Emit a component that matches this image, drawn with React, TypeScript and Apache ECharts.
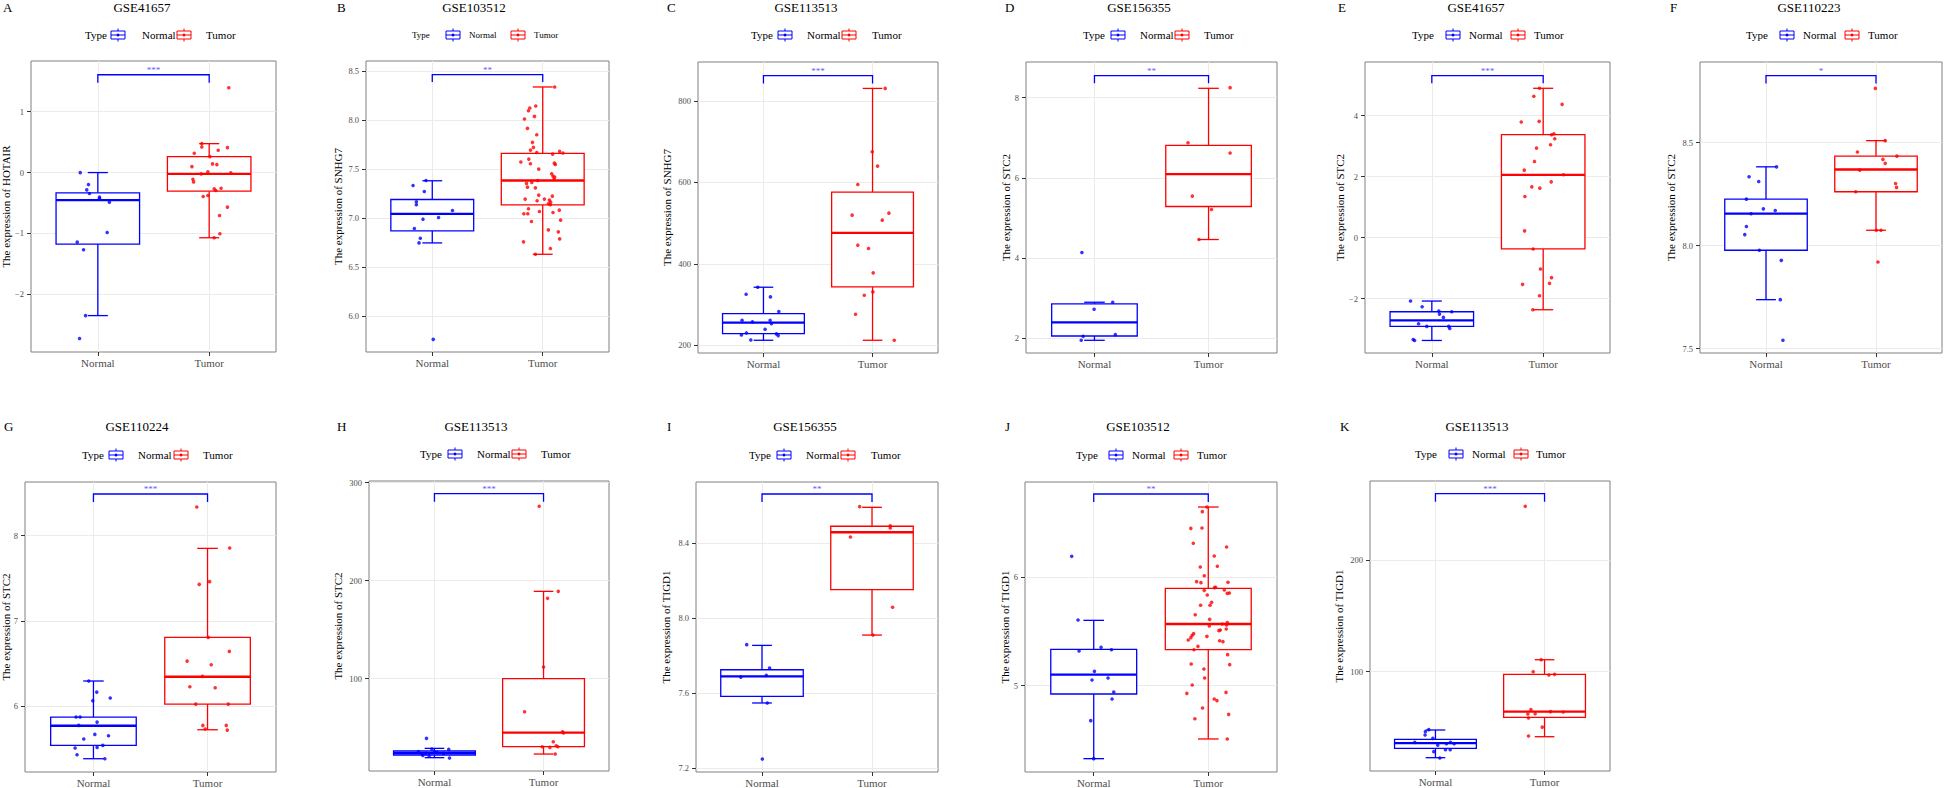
import React, { useEffect, useRef } from "react";
import * as echarts from "echarts";

const BLUE = "#0000ff";
const RED = "#ff0000";
const STAR_COLOR = "#5c5cff";
const FONT = '"Liberation Serif","Times New Roman",Times,serif';
const CATEGORIES = ["Normal", "Tumor"];

// ---------------- meta ----------------
const LETTERS = ["A", "B", "C", "D", "E", "F", "G", "H", "I", "J", "K"];
const DATASETS = ["GSE41657", "GSE103512", "GSE113513", "GSE156355", "GSE41657", "GSE110223", "GSE110224", "GSE113513", "GSE156355", "GSE103512", "GSE113513"];
const GENES = ["HOTAIR", "SNHG7", "SNHG7", "STC2", "STC2", "STC2", "STC2", "STC2", "TIGD1", "TIGD1", "TIGD1"];
const SIGNIF = ["***", "**", "***", "**", "***", "*", "***", "***", "**", "**", "***"];
const Y_TICKS = [
  [-2, -1, 0, 1],
  [6, 6.5, 7, 7.5, 8, 8.5],
  [200, 400, 600, 800],
  [2, 4, 6, 8],
  [-2, 0, 2, 4],
  [7.5, 8, 8.5],
  [6, 7, 8],
  [100, 200, 300],
  [7.2, 7.6, 8.0, 8.4],
  [5, 6],
  [100, 200],
];
const Y_DECIMALS = [0, 1, 0, 0, 0, 1, 0, 0, 1, 0, 0];
const Y_RANGES = [
  [-2.948, 1.833], [5.636, 8.605], [181, 896], [1.625, 8.89], [-3.78, 5.76], [7.479, 8.892],
  [5.226, 8.63], [5.8, 301.7], [7.179, 8.725], [4.203, 6.88], [11.1, 270.7],
];
// [bracket level, bracket tip end]
const BRACKETS = [
  [1.607, 1.475], [8.466, 8.391], [862.3, 843.4], [8.55, 8.358], [5.314, 5.062], [8.826, 8.788],
  [8.489, 8.395], [288.8, 280.6], [8.661, 8.619], [6.769, 6.695], [259.4, 252.2],
];

// ---------------- box stats: [lower whisker, Q1, median, Q3, upper whisker] ----------------
const A_NORMAL_BOX = [-2.35, -1.175, -0.454, -0.333, 0.0];
const A_TUMOR_BOX = [-1.071, -0.306, -0.022, 0.262, 0.475];
const B_NORMAL_BOX = [6.749, 6.872, 7.046, 7.192, 7.383];
const B_TUMOR_BOX = [6.633, 7.138, 7.386, 7.662, 8.34];
const C_NORMAL_BOX = [212.3, 228.7, 255.7, 277.9, 342.6];
const C_TUMOR_BOX = [212.3, 343.4, 476.2, 576.2, 831.1];
const D_NORMAL_BOX = [1.942, 2.05, 2.392, 2.85, 2.892];
const D_TUMOR_BOX = [4.458, 5.283, 6.092, 6.808, 8.233];
const E_NORMAL_BOX = [-3.369, -2.909, -2.712, -2.427, -2.077];
const E_TUMOR_BOX = [-2.362, -0.369, 2.062, 3.376, 4.898];
const F_NORMAL_BOX = [7.738, 7.978, 8.156, 8.226, 8.383];
const F_TUMOR_BOX = [8.075, 8.262, 8.37, 8.435, 8.51];
const G_NORMAL_BOX = [5.382, 5.538, 5.769, 5.871, 6.294];
const G_TUMOR_BOX = [5.722, 6.023, 6.344, 6.806, 7.851];
const H_NORMAL_BOX = [19.4, 22.1, 24.1, 26.2, 28.9];
const H_TUMOR_BOX = [23.1, 30.6, 44.9, 100.0, 189.1];
const I_NORMAL_BOX = [7.547, 7.582, 7.689, 7.724, 7.854];
const I_TUMOR_BOX = [7.909, 8.151, 8.457, 8.489, 8.59];
const J_NORMAL_BOX = [4.326, 4.923, 5.102, 5.335, 5.603];
const J_TUMOR_BOX = [4.508, 5.332, 5.569, 5.898, 6.649];
const K_NORMAL_BOX = [23.0, 31.3, 36.1, 39.4, 47.8];
const K_TUMOR_BOX = [41.8, 59.1, 64.2, 97.6, 110.7];

// ---------------- samples: [jitter offset, value] ----------------
const A_NORMAL_PTS = [[-0.158, 0.0], [-0.084, -0.197], [-0.099, -0.284], [-0.075, -0.344], [0.015, -0.404], [0.015, -0.426], [0.104, -0.486], [0.084, -0.984], [-0.185, -1.142], [-0.128, -1.268], [-0.11, -2.35], [-0.164, -2.727]];
const A_TUMOR_PTS = [[0.176, 1.393], [-0.066, 0.475], [-0.066, 0.421], [0.164, 0.41], [0.081, 0.366], [-0.134, 0.317], [0.006, 0.262], [-0.155, 0.098], [0.03, 0.142], [0.069, 0.131], [-0.012, 0.011], [-0.072, -0.022], [0.194, -0.005], [-0.146, -0.109], [-0.14, -0.153], [0.045, -0.268], [0.06, -0.295], [0.107, -0.257], [-0.054, -0.393], [-0.012, -0.377], [0.164, -0.568], [0.093, -0.705], [0.096, -1.005], [0.045, -1.071]];
const B_NORMAL_PTS = [[-0.174, 7.335], [-0.057, 7.386], [-0.072, 7.274], [-0.144, 7.168], [-0.144, 7.138], [0.183, 7.08], [0.057, 7.008], [-0.084, 6.991], [-0.162, 6.896], [-0.108, 6.797], [-0.12, 6.749], [0.009, 5.765]];
const B_TUMOR_PTS = [[0.108, 8.34], [-0.063, 8.146], [-0.117, 8.125], [-0.129, 8.098], [-0.075, 8.04], [-0.165, 8.013], [-0.138, 7.918], [-0.054, 7.853], [-0.093, 7.775], [-0.084, 7.724], [-0.111, 7.696], [-0.054, 7.672], [0.09, 7.655], [0.153, 7.683], [0.183, 7.666], [-0.198, 7.574], [-0.126, 7.604], [-0.111, 7.557], [0.105, 7.563], [0.114, 7.55], [-0.036, 7.502], [0.081, 7.454], [0.093, 7.431], [0.108, 7.42], [0.102, 7.397], [-0.045, 7.386], [-0.099, 7.366], [-0.147, 7.356], [-0.138, 7.318], [-0.066, 7.311], [-0.036, 7.236], [0.087, 7.226], [-0.159, 7.196], [0.015, 7.196], [-0.051, 7.179], [0.06, 7.186], [0.072, 7.165], [0.051, 7.148], [0.069, 7.138], [-0.129, 7.097], [-0.03, 7.07], [0.15, 7.083], [-0.171, 7.046], [-0.135, 7.046], [0.093, 7.059], [-0.102, 6.967], [0.162, 6.981], [0.051, 6.882], [0.141, 6.862], [0.153, 6.79], [-0.174, 6.76], [0.069, 6.692], [-0.066, 6.633]];
const C_NORMAL_PTS = [[-0.052, 342.6], [-0.159, 325.4], [0.064, 318.9], [0.141, 282.8], [-0.196, 261.5], [-0.101, 257.4], [0.061, 261.5], [0.073, 253.3], [0.015, 239.3], [-0.156, 230.3], [-0.202, 225.4], [0.119, 227.9], [0.135, 223.8], [-0.116, 213.1]];
const C_TUMOR_PTS = [[0.116, 831.1], [-0.003, 675.4], [0.046, 640.2], [-0.135, 595.1], [-0.187, 519.7], [0.15, 524.6], [0.089, 507.4], [-0.135, 445.9], [-0.037, 437.7], [0.006, 377.9], [0.003, 331.1], [-0.076, 323.0], [-0.156, 276.2], [0.199, 212.3]];
const D_NORMAL_PTS = [[-0.11, 4.133], [0.16, 2.892], [-0.003, 2.717], [0.183, 2.083], [-0.099, 2.042], [-0.116, 1.942]];
const D_TUMOR_PTS = [[0.189, 8.25], [-0.18, 6.875], [0.189, 6.617], [-0.142, 5.542], [0.026, 5.208], [-0.084, 4.458]];
const E_NORMAL_PTS = [[-0.191, -2.077], [-0.087, -2.263], [0.063, -2.405], [0.179, -2.427], [0.069, -2.504], [0.104, -2.613], [-0.119, -2.821], [-0.045, -2.909], [0.152, -2.909], [0.161, -2.975], [-0.167, -3.336], [-0.155, -3.369]];
const E_TUMOR_PTS = [[-0.033, 4.898], [-0.084, 4.635], [0.17, 4.372], [-0.197, 3.792], [-0.036, 3.814], [0.096, 3.409], [0.075, 3.376], [0.104, 3.245], [0.066, 3.047], [-0.06, 2.938], [-0.078, 2.5], [-0.17, 2.215], [0.182, 2.062], [0.072, 1.832], [-0.102, 1.668], [-0.03, 1.624], [-0.164, 1.35], [-0.167, 0.222], [-0.09, -0.369], [-0.024, -1.026], [0.075, -1.31], [0.057, -1.496], [-0.185, -1.529], [-0.033, -1.902], [-0.093, -2.362]];
const F_NORMAL_PTS = [[0.096, 8.383], [-0.154, 8.335], [-0.066, 8.312], [-0.178, 8.226], [-0.024, 8.179], [0.084, 8.171], [-0.136, 8.155], [-0.178, 8.093], [-0.193, 8.054], [-0.06, 7.978], [0.139, 7.929], [0.13, 7.738], [0.154, 7.541]];
const F_TUMOR_PTS = [[-0.006, 8.764], [0.084, 8.51], [-0.169, 8.455], [0.19, 8.435], [0.063, 8.419], [0.084, 8.4], [-0.148, 8.367], [0.178, 8.302], [0.187, 8.283], [-0.184, 8.262], [0.003, 8.075], [0.045, 8.075], [0.018, 7.921]];
const G_NORMAL_PTS = [[-0.041, 6.294], [0.029, 6.164], [-0.006, 6.063], [0.147, 6.094], [-0.152, 5.871], [-0.117, 5.871], [0.032, 5.812], [-0.129, 5.773], [-0.085, 5.613], [0.012, 5.667], [0.132, 5.652], [0.082, 5.538], [0.032, 5.515], [-0.161, 5.507], [-0.144, 5.429], [0.1, 5.382]];
const G_TUMOR_PTS = [[-0.094, 8.337], [0.194, 7.855], [-0.073, 7.429], [0.018, 7.46], [0.006, 6.806], [0.191, 6.642], [-0.179, 6.528], [0.032, 6.485], [-0.044, 6.348], [-0.155, 6.227], [0.067, 6.215], [-0.103, 6.023], [0.182, 6.023], [-0.041, 5.773], [0.164, 5.773], [-0.021, 5.73], [0.173, 5.718]];
const H_NORMAL_PTS = [[-0.073, 39.1], [-0.024, 28.2], [0.131, 27.9], [-0.147, 25.5], [-0.116, 23.5], [-0.08, 23.8], [0.024, 24.8], [0.083, 23.8], [0.138, 19.0], [-0.049, 21.4], [-0.107, 21.8], [0.0, 25.2]];
const H_TUMOR_PTS = [[-0.04, 275.9], [0.135, 189.1], [0.037, 182.0], [0.0, 111.9], [-0.174, 66.3], [0.174, 45.9], [0.183, 44.6], [0.089, 35.7], [-0.012, 30.6], [0.058, 29.9], [0.116, 31.6], [0.131, 30.6], [0.107, 23.1]];
const I_NORMAL_PTS = [[-0.139, 7.858], [0.069, 7.733], [0.039, 7.694], [-0.193, 7.685], [0.048, 7.547], [0.003, 7.248]];
const I_TUMOR_PTS = [[-0.112, 8.594], [0.166, 8.492], [0.166, 8.48], [-0.196, 8.432], [0.187, 8.057], [0.009, 7.909]];
const J_NORMAL_PTS = [[-0.192, 6.194], [-0.137, 5.606], [0.064, 5.354], [-0.128, 5.32], [0.155, 5.332], [0.006, 5.132], [-0.015, 5.052], [0.125, 5.071], [0.175, 4.942], [0.16, 4.877], [-0.026, 4.677], [0.0, 4.326]];
const J_TUMOR_PTS = [[-0.012, 6.649], [-0.052, 6.606], [-0.152, 6.452], [-0.055, 6.455], [-0.131, 6.314], [0.16, 6.28], [0.052, 6.197], [-0.07, 6.095], [0.079, 6.102], [-0.035, 6.015], [-0.102, 5.96], [-0.064, 5.951], [0.172, 5.954], [0.055, 5.905], [0.064, 5.908], [-0.035, 5.88], [0.14, 5.883], [0.184, 5.855], [0.166, 5.852], [-0.009, 5.837], [0.029, 5.769], [-0.067, 5.742], [0.015, 5.742], [-0.114, 5.655], [0.012, 5.612], [0.166, 5.582], [0.122, 5.569], [0.16, 5.56], [0.009, 5.551], [-0.128, 5.48], [-0.14, 5.465], [-0.152, 5.443], [-0.175, 5.422], [0.105, 5.514], [0.093, 5.508], [0.157, 5.523], [-0.012, 5.455], [-0.09, 5.363], [-0.125, 5.332], [0.099, 5.415], [0.128, 5.406], [0.169, 5.286], [-0.149, 5.2], [0.187, 5.194], [-0.038, 5.154], [-0.032, 5.071], [-0.14, 5.006], [-0.187, 4.929], [0.155, 4.938], [0.052, 4.877], [0.076, 4.862], [-0.05, 4.794], [0.178, 4.735], [-0.117, 4.695], [0.166, 4.508]];
const K_NORMAL_PTS = [[-0.061, 48.1], [-0.092, 46.3], [-0.095, 43.3], [-0.024, 40.3], [-0.19, 36.7], [0.138, 36.7], [0.171, 35.5], [0.101, 35.5], [0.021, 34.3], [0.092, 30.1], [0.135, 30.1], [-0.015, 28.4], [0.04, 22.7]];
const K_TUMOR_PTS = [[-0.177, 248.1], [-0.031, 110.7], [-0.104, 100.0], [0.04, 97.0], [0.092, 97.6], [-0.125, 66.0], [-0.153, 62.1], [-0.086, 62.4], [0.055, 64.2], [0.171, 63.9], [-0.147, 58.5], [-0.021, 50.4], [-0.147, 42.4]];

const NORMAL_BOXES = [A_NORMAL_BOX, B_NORMAL_BOX, C_NORMAL_BOX, D_NORMAL_BOX, E_NORMAL_BOX, F_NORMAL_BOX, G_NORMAL_BOX, H_NORMAL_BOX, I_NORMAL_BOX, J_NORMAL_BOX, K_NORMAL_BOX];
const TUMOR_BOXES = [A_TUMOR_BOX, B_TUMOR_BOX, C_TUMOR_BOX, D_TUMOR_BOX, E_TUMOR_BOX, F_TUMOR_BOX, G_TUMOR_BOX, H_TUMOR_BOX, I_TUMOR_BOX, J_TUMOR_BOX, K_TUMOR_BOX];
const NORMAL_PTS = [A_NORMAL_PTS, B_NORMAL_PTS, C_NORMAL_PTS, D_NORMAL_PTS, E_NORMAL_PTS, F_NORMAL_PTS, G_NORMAL_PTS, H_NORMAL_PTS, I_NORMAL_PTS, J_NORMAL_PTS, K_NORMAL_PTS];
const TUMOR_PTS = [A_TUMOR_PTS, B_TUMOR_PTS, C_TUMOR_PTS, D_TUMOR_PTS, E_TUMOR_PTS, F_TUMOR_PTS, G_TUMOR_PTS, H_TUMOR_PTS, I_TUMOR_PTS, J_TUMOR_PTS, K_TUMOR_PTS];

// ---------------- layout (pixels) ----------------
// panel border: left, top, right, bottom
const PANEL_RECTS = [
  [31, 61, 276, 352], [366, 61, 609, 352], [698, 62, 938, 353], [1026, 62, 1277, 353], [1365, 62, 1610, 353], [1700, 62, 1942, 353],
  [25, 482, 276, 772], [369, 481, 609, 771], [696, 482, 938, 772], [1025, 482, 1277, 772], [1370, 481, 1610, 771],
];
// legend: y, "Type" x, icon1 centre, "Normal" x, icon2 centre, "Tumor" x
const LEGEND_POS = [
  [35, 85, 118, 142, 184, 206], [35, 412, 453, 469, 518, 534], [35, 751, 785, 807, 849, 872], [35, 1083, 1118, 1140, 1182, 1204],
  [35, 1412, 1453, 1469, 1518, 1534], [35, 1746, 1787, 1803, 1852, 1868],
  [455, 82, 116, 138, 181, 203], [454, 420, 455, 477, 519, 541], [455, 749, 784, 806, 848, 871], [455, 1076, 1116, 1132, 1181, 1197], [454, 1415, 1456, 1472, 1521, 1536],
];
const LEGEND_FONT = [11, 9, 11, 11, 11, 11, 11, 11, 11, 11, 11];
const LETTER_X = [3, 337, 667, 1005, 1338, 1670, 4, 337, 667, 1005, 1340];
const TITLE_X = [142, 474, 806, 1139, 1476, 1809, 137, 476, 805, 1138, 1477];
const HEAD_Y = [7, 7, 7, 7, 7, 7, 426, 426, 426, 426, 426];
const YTITLE_X = [6, 337.5, 667, 1005.5, 1340, 1671, 6, 337.5, 666, 1005, 1339];

const BOX_COLORS = [BLUE, RED];

function boxRender(params: any, api: any) {
  const x = api.value(0);
  const lo = api.value(1), q1 = api.value(2), med = api.value(3), q3 = api.value(4), hi = api.value(5);
  const color = BOX_COLORS[params.dataIndex];
  const bw = api.size([0.75, 0])[0];
  const cw = api.size([0.18, 0])[0];
  const cx = api.coord([x, lo])[0];
  const yLo = api.coord([x, lo])[1];
  const yQ1 = api.coord([x, q1])[1];
  const yMed = api.coord([x, med])[1];
  const yQ3 = api.coord([x, q3])[1];
  const yHi = api.coord([x, hi])[1];
  const ls = { stroke: color, lineWidth: 1.3 };
  return {
    type: "group",
    children: [
      { type: "line", shape: { x1: cx, y1: yQ3, x2: cx, y2: yHi }, style: ls },
      { type: "line", shape: { x1: cx, y1: yQ1, x2: cx, y2: yLo }, style: ls },
      { type: "line", shape: { x1: cx - cw / 2, y1: yHi, x2: cx + cw / 2, y2: yHi }, style: ls },
      { type: "line", shape: { x1: cx - cw / 2, y1: yLo, x2: cx + cw / 2, y2: yLo }, style: ls },
      { type: "rect", shape: { x: cx - bw / 2, y: yQ3, width: bw, height: yQ1 - yQ3 }, style: { fill: "#ffffff", stroke: color, lineWidth: 1.3 } },
      { type: "line", shape: { x1: cx - bw / 2, y1: yMed, x2: cx + bw / 2, y2: yMed }, style: { stroke: color, lineWidth: 2.3 } },
    ],
  };
}

function makeBracketRender(stars: string) {
  return (params: any, api: any) => {
    const y = api.value(1);
    const tip = api.value(2);
    const p0 = api.coord([0, y]);
    const p1 = api.coord([1, y]);
    const t = api.coord([0, tip])[1];
    return {
      type: "group",
      children: [
        {
          type: "polyline",
          shape: { points: [[p0[0], t], [p0[0], p0[1]], [p1[0], p1[1]], [p1[0], t]] },
          style: { stroke: BLUE, lineWidth: 1.3, fill: "none" },
        },
        {
          type: "text",
          x: (p0[0] + p1[0]) / 2,
          y: p0[1] - 0.5,
          style: { text: stars, fill: STAR_COLOR, fontSize: 9, fontFamily: FONT, align: "center", verticalAlign: "bottom" },
        },
      ],
    };
  };
}

function legendIcon(cx: number, cy: number, color: string) {
  const s = { stroke: color, lineWidth: 1 };
  return {
    type: "group",
    x: cx,
    y: cy,
    children: [
      { type: "line", shape: { x1: 0, y1: -6.5, x2: 0, y2: -4 }, style: s },
      { type: "line", shape: { x1: 0, y1: 4, x2: 0, y2: 6.5 }, style: s },
      { type: "rect", shape: { x: -7, y: -4, width: 14, height: 8 }, style: { fill: "#ffffff", stroke: color, lineWidth: 1 } },
      { type: "line", shape: { x1: -7, y1: 0, x2: 7, y2: 0 }, style: s },
      { type: "circle", shape: { cx: 0, cy: 0, r: 1.4 }, style: { fill: color } },
    ],
  };
}

function txt(x: number, y: number, text: string, size: number, align: string, extra: any = {}) {
  return {
    type: "text",
    x,
    y,
    ...extra,
    style: { text, fill: "#000", fontSize: size, fontFamily: FONT, align, verticalAlign: "middle" },
  };
}

function buildOption() {
  const grid: any[] = [];
  const xAxis: any[] = [];
  const yAxis: any[] = [];
  const series: any[] = [];
  const graphic: any[] = [];

  LETTERS.forEach((letter, i) => {
    const [l, t, r, b] = PANEL_RECTS[i];
    grid.push({
      left: l, top: t, width: r - l, height: b - t,
      show: true, borderColor: "#808080", borderWidth: 1, backgroundColor: "#ffffff",
      outerBoundsMode: "none", containLabel: false,
    });
    xAxis.push({
      type: "value", gridIndex: i, min: -0.6, max: 1.6, position: "bottom",
      axisLine: { show: false, onZero: false },
      axisTick: { show: true, customValues: [0, 1], length: 4, lineStyle: { color: "#333333" } },
      axisLabel: {
        customValues: [0, 1], formatter: (v: number) => CATEGORIES[Math.round(v)],
        fontSize: 11, color: "#4d4d4d", margin: 5, fontFamily: FONT,
      },
      splitLine: { show: true, lineStyle: { color: "#ebebeb", width: 1 } },
    });
    const dec = Y_DECIMALS[i];
    yAxis.push({
      type: "value", gridIndex: i, min: Y_RANGES[i][0], max: Y_RANGES[i][1], position: "left",
      axisLine: { show: false, onZero: false },
      axisTick: { show: true, customValues: Y_TICKS[i], length: 4, lineStyle: { color: "#333333" } },
      axisLabel: {
        customValues: Y_TICKS[i],
        formatter: (v: number) => v.toFixed(dec).replace("-", "\u2212"),
        fontSize: 8.5, color: "#4d4d4d", margin: 7, fontFamily: FONT,
      },
      splitLine: { show: true, lineStyle: { color: "#ebebeb", width: 1 } },
    });
    series.push({
      type: "custom", xAxisIndex: i, yAxisIndex: i, z: 2,
      renderItem: boxRender,
      encode: { x: 0, y: [1, 2, 3, 4, 5] },
      data: [[0, ...NORMAL_BOXES[i]], [1, ...TUMOR_BOXES[i]]],
    });
    series.push({
      type: "scatter", xAxisIndex: i, yAxisIndex: i, z: 3,
      symbolSize: 3.6, itemStyle: { color: BLUE },
      data: NORMAL_PTS[i].map(([o, v]) => [0 + o, v]),
    });
    series.push({
      type: "scatter", xAxisIndex: i, yAxisIndex: i, z: 3,
      symbolSize: 3.6, itemStyle: { color: RED },
      data: TUMOR_PTS[i].map(([o, v]) => [1 + o, v]),
    });
    series.push({
      type: "custom", xAxisIndex: i, yAxisIndex: i, z: 4,
      renderItem: makeBracketRender(SIGNIF[i]),
      encode: { x: 0, y: [1, 2] },
      data: [[0.5, BRACKETS[i][0], BRACKETS[i][1]]],
    });

    // headings
    graphic.push(txt(LETTER_X[i], HEAD_Y[i], letter, 13, "left"));
    graphic.push(txt(TITLE_X[i], HEAD_Y[i], DATASETS[i], 13, "center"));
    graphic.push(txt(YTITLE_X[i], (t + b) / 2, "The expression of " + GENES[i], 11, "center", { rotation: Math.PI / 2 }));
    // legend
    const [ly, tx, i1, nx, i2, ux] = LEGEND_POS[i];
    const fs = LEGEND_FONT[i];
    graphic.push(txt(tx, ly, "Type", fs, "left"));
    graphic.push(legendIcon(i1, ly, BLUE));
    graphic.push(txt(nx, ly, CATEGORIES[0], fs, "left"));
    graphic.push(legendIcon(i2, ly, RED));
    graphic.push(txt(ux, ly, CATEGORIES[1], fs, "left"));
  });

  return {
    animation: false,
    backgroundColor: "#ffffff",
    textStyle: { fontFamily: FONT },
    grid,
    xAxis,
    yAxis,
    series,
    graphic: { elements: graphic },
  };
}

export default function App() {
  const ref = useRef<HTMLDivElement>(null);
  useEffect(() => {
    if (!ref.current) return;
    const chart = echarts.init(ref.current, null, { renderer: "svg" });
    chart.setOption(buildOption() as any);
    return () => chart.dispose();
  }, []);
  return (
    <div
      ref={ref}
      style={{ position: "fixed", left: 0, top: 0, width: 1944, height: 788, background: "#ffffff" }}
    />
  );
}
